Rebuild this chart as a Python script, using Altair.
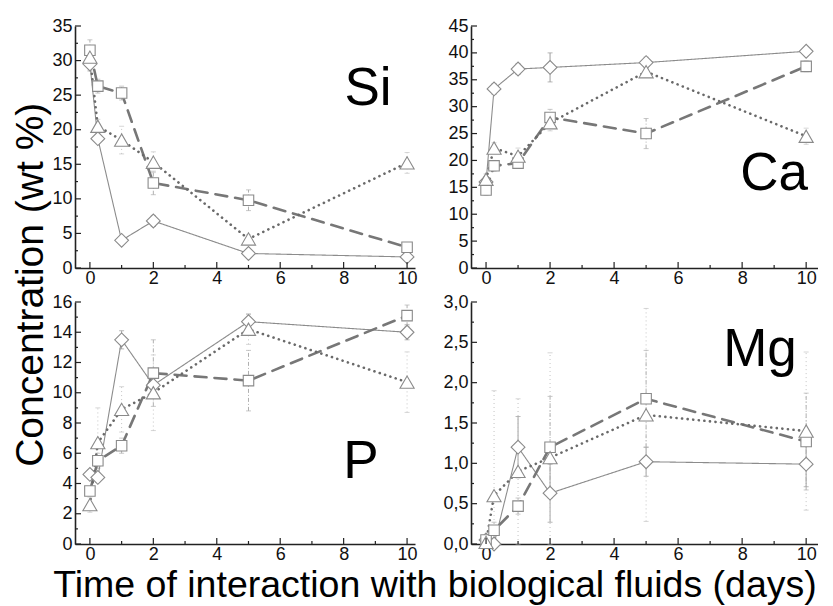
import altair as alt
import pandas as pd

# ---------------- data ----------------
days = [0, 0.25, 1, 2, 5, 10]
series_names = ["diamond", "square", "triangle"]
elements = ["Si", "Ca", "P", "Mg"]

si_diamond = [29.5, 18.7, 4.0, 6.8, 2.1, 1.6]
si_square = [31.5, 26.3, 25.3, 12.3, 9.8, 3.0]
si_triangle = [30.5, 20.5, 18.5, 15.3, 4.2, 15.2]
si_diamond_err = [1.0, 0.6, 0.5, 0.8, 0.5, 0.6]
si_square_err = [1.5, 1.0, 1.0, 1.7, 1.5, 0.6]
si_triangle_err = [1.0, 1.0, 2.0, 1.5, 0.6, 1.5]

ca_diamond = [16.0, 33.3, 37.0, 37.3, 38.2, 40.3]
ca_square = [14.5, 19.0, 19.5, 28.0, 25.0, 37.5]
ca_triangle = [16.5, 22.3, 20.8, 27.0, 36.5, 24.5]
ca_diamond_err = [1.0, 1.0, 1.0, 2.7, 1.0, 0.5]
ca_square_err = [1.0, 1.0, 1.0, 1.5, 2.8, 1.0]
ca_triangle_err = [1.0, 1.0, 1.5, 1.5, 1.0, 1.5]

p_diamond = [4.6, 4.4, 13.5, 10.5, 14.7, 14.0]
p_square = [3.5, 5.5, 6.5, 11.3, 10.8, 15.1]
p_triangle = [2.6, 6.7, 8.9, 10.0, 14.2, 10.7]
p_diamond_err = [0.3, 0.3, 0.6, 0.5, 0.5, 0.5]
p_square_err = [0.3, 0.5, 0.5, 2.2, 2.0, 0.7]
p_triangle_err = [0.5, 2.3, 1.5, 2.5, 1.0, 2.0]

mg_diamond = [0.05, 0.0, 1.2, 0.63, 1.02, 0.99]
mg_square = [0.05, 0.17, 0.47, 1.2, 1.8, 1.27]
mg_triangle = [0.02, 0.6, 0.9, 1.07, 1.6, 1.4]
mg_diamond_err = [0.05, 0.05, 0.38, 0.36, 0.18, 0.28]
mg_square_err = [0.05, 0.1, 0.1, 0.63, 0.6, 0.6]
mg_triangle_err = [0.05, 1.3, 0.9, 1.3, 1.32, 0.98]

x_major = [0, 2, 4, 6, 8, 10]
x_minor = [1, 3, 5, 7, 9]
si_yticks = [0, 5, 10, 15, 20, 25, 30, 35]
si_yminor = [2.5, 7.5, 12.5, 17.5, 22.5, 27.5, 32.5]
ca_yticks = [0, 5, 10, 15, 20, 25, 30, 35, 40, 45]
ca_yminor = [2.5, 7.5, 12.5, 17.5, 22.5, 27.5, 32.5, 37.5, 42.5]
p_yticks = [0, 2, 4, 6, 8, 10, 12, 14, 16]
p_yminor = [1, 3, 5, 7, 9, 11, 13, 15]
mg_yticks = [0, 0.5, 1.0, 1.5, 2.0, 2.5, 3.0]
mg_yminor = [0.25, 0.75, 1.25, 1.75, 2.25, 2.75]

FONT = "Liberation Sans"
H = 242

STYLE = {
    "diamond": dict(color="#8c8c8c", width=1.1, dash=[1, 0], shape="diamond", size=190,
                    ecolor="#9a9a9a", edash=[1, 0]),
    "square": dict(color="#777777", width=2.6, dash=[12, 8], shape="square", size=110,
                   ecolor="#b0b0b0", edash=[4, 2, 1, 2]),
    "triangle": dict(color="#6a6a6a", width=2.6, dash=[0.1, 5.5], shape="triangle-up", size=200,
                     ecolor="#c4c4c4", edash=[1, 3]),
}


def make_df(vals, errs):
    v, e = vals, errs
    return pd.DataFrame({"day": days, "value": v,
                         "lo": [max(a - b, 0) for a, b in zip(v, e)],
                         "hi": [a + b for a, b in zip(v, e)]})


def panel(series, label, ymax, yticks, yminor, lx, ly, width, xmax, comma=False):
    xs = alt.Scale(domain=[-0.47, xmax], nice=False, zero=False)
    ys = alt.Scale(domain=[0, ymax], nice=False, zero=True)
    ax_common = dict(title=None, grid=False, ticks=False, tickSize=0, labelFont=FONT,
                     labelFontSize=18, labelColor="#111", domainColor="#222",
                     domainWidth=1.6)
    yaxis_kw = dict(ax_common, values=yticks, labelPadding=3)
    if comma:
        yaxis_kw["labelExpr"] = "replace(format(datum.value, '.1f'), '.', ',')"
    xaxis = alt.Axis(values=x_major, labelPadding=1, **ax_common)
    yaxis = alt.Axis(**yaxis_kw)

    layers = []
    for name, df in zip(series_names, series):
        st = STYLE[name]
        b = alt.Chart(df)
        layers.append(b.mark_rule(color=st["ecolor"], strokeWidth=1, strokeDash=st["edash"]).encode(
            x=alt.X("day:Q", scale=xs, axis=xaxis),
            y=alt.Y("lo:Q", scale=ys, axis=yaxis), y2="hi:Q"))
        for f in ["hi", "lo"]:
            layers.append(b.mark_tick(orient="horizontal", size=5, thickness=1, color=st["ecolor"]).encode(
                x=alt.X("day:Q", scale=xs, axis=xaxis),
                y=alt.Y(f + ":Q", scale=ys, axis=yaxis)))
    for name, df in zip(series_names, series):
        st = STYLE[name]
        layers.append(alt.Chart(df).mark_line(color=st["color"], strokeWidth=st["width"],
                                              strokeDash=st["dash"], strokeCap="round").encode(
            x=alt.X("day:Q", scale=xs, axis=xaxis),
            y=alt.Y("value:Q", scale=ys, axis=yaxis)))
    for name, df in zip(series_names, series):
        st = STYLE[name]
        layers.append(alt.Chart(df).mark_point(filled=True, fill="white", stroke="#8a8a8a",
                                               strokeWidth=1.1, opacity=1, fillOpacity=1,
                                               shape=st["shape"], size=st["size"]).encode(
            x=alt.X("day:Q", scale=xs, axis=xaxis),
            y=alt.Y("value:Q", scale=ys, axis=yaxis)))
    for vals, ln in [(x_major, 6), (x_minor, 3)]:
        layers.append(alt.Chart(pd.DataFrame({"day": vals})).mark_rule(color="#222", strokeWidth=1.2).encode(
            x=alt.X("day:Q", scale=xs, axis=xaxis), y=alt.value(H), y2=alt.value(H - ln)))
    for vals, ln in [(yticks, 6), (yminor, 3)]:
        layers.append(alt.Chart(pd.DataFrame({"value": vals})).mark_rule(color="#222", strokeWidth=1.2).encode(
            y=alt.Y("value:Q", scale=ys, axis=yaxis), x=alt.value(0), x2=alt.value(ln)))
    layers.append(alt.Chart(pd.DataFrame({"lab": [label]})).mark_text(
        font=FONT, fontSize=53, color="#000", align="center", baseline="alphabetic").encode(
        text="lab:N", x=alt.value(lx), y=alt.value(ly)))
    return alt.layer(*layers).properties(width=width, height=H)


si = panel([make_df(si_diamond, si_diamond_err), make_df(si_square, si_square_err),
            make_df(si_triangle, si_triangle_err)], elements[0], 35, si_yticks, si_yminor, 293, 79,
           340, 10.25)
ca = panel([make_df(ca_diamond, ca_diamond_err), make_df(ca_square, ca_square_err),
            make_df(ca_triangle, ca_triangle_err)], elements[1], 45, ca_yticks, ca_yminor, 303, 164,
           347, 10.37)
pp = panel([make_df(p_diamond, p_diamond_err), make_df(p_square, p_square_err),
            make_df(p_triangle, p_triangle_err)], elements[2], 16, p_yticks, p_yminor, 286, 176,
           340, 10.25)
mg = panel([make_df(mg_diamond, mg_diamond_err), make_df(mg_square, mg_square_err),
            make_df(mg_triangle, mg_triangle_err)], elements[3], 3.0, mg_yticks, mg_yminor, 289, 64,
           347, 10.37, comma=True)

grid = alt.concat(si, ca, pp, mg, columns=2, spacing={"row": 6, "column": 24})

inner = alt.vconcat(grid).properties(
    title=alt.TitleParams("Time of interaction with biological fluids (days)", orient="bottom",
                          anchor="middle", font=FONT, fontSize=37.5, fontWeight="normal",
                          color="#000", offset=4))
chart = alt.vconcat(inner).properties(
    title=alt.TitleParams("Concentration (wt %)", orient="left", anchor="middle", font=FONT,
                          fontSize=39, fontWeight="normal", color="#000", offset=1, dx=26),
    padding={"left": 3, "top": 9, "right": 0, "bottom": 0},
    background="white",
).configure_view(stroke=None)

chart.save("out.html", embed_options={"renderer": "svg", "actions": False})
